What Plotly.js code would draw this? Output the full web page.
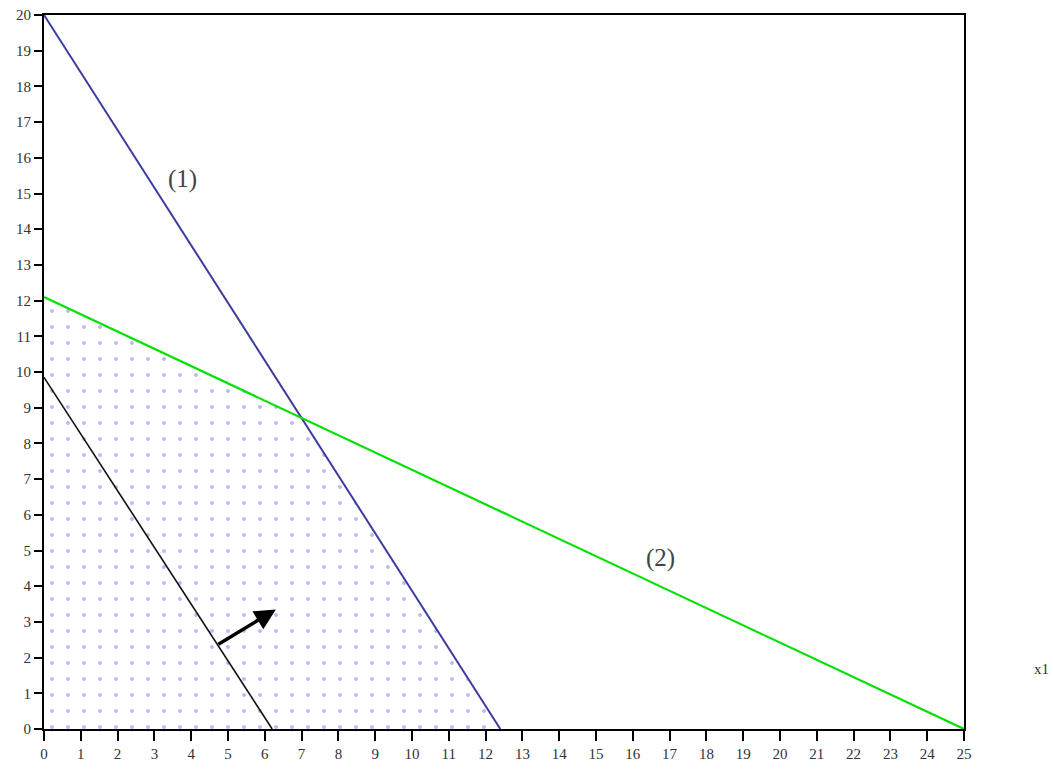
<!DOCTYPE html>
<html>
<head>
<meta charset="utf-8">
<script src="https://cdn.plot.ly/plotly-3.0.1.min.js"></script>
<style>html,body{margin:0;padding:0;background:#fff;}#chart{width:1053px;height:772px;}</style>
</head>
<body>
<div id="chart"></div>
<script>
// Constraint (1): blue line
const line1X = [0, 12.4];
const line1Y = [20, 0];
// Constraint (2): green line
const line2X = [0, 25];
const line2Y = [12.1, 0];
// Objective line (black)
const objX = [0, 6.2];
const objY = [9.85, 0];
// Feasible region vertices
const regionX = [0, 0, 7.0, 12.4, 0];
const regionY = [0, 12.1, 8.71, 0, 0];
// Direction arrow
const arrowFrom = [4.7, 2.35];
const arrowTo = [6.3, 3.35];
// Labels
const labelText = ['(1)', '(2)'];
const labelX = [3.75, 16.75];
const labelY = [15.4, 4.8];
const xTicks = Array.from({length: 26}, (_, i) => i);
const yTicks = Array.from({length: 21}, (_, i) => i);

const traces = [
  {
    x: regionX, y: regionY, type: 'scatter', mode: 'lines',
    fill: 'toself', fillcolor: 'rgba(0,0,0,0)',
    fillpattern: {shape: '.', fgcolor: '#b8b8f4', bgcolor: 'rgba(255,255,255,0)', size: 16, solidity: 0.045},
    line: {width: 0}, hoverinfo: 'skip', showlegend: false
  },
  {x: objX, y: objY, type: 'scatter', mode: 'lines', line: {color: '#111111', width: 1.6}, showlegend: false},
  {x: line1X, y: line1Y, type: 'scatter', mode: 'lines', line: {color: '#3c3ca0', width: 2}, showlegend: false},
  {x: line2X, y: line2Y, type: 'scatter', mode: 'lines', line: {color: '#00e000', width: 2.2}, showlegend: false}
];

const axisFont = {family: 'Liberation Serif, Times New Roman, serif', size: 15, color: '#333333'};

const annotations = labelText.map((t, i) => ({
  x: labelX[i], y: labelY[i], xref: 'x', yref: 'y', text: t, showarrow: false,
  font: {family: 'Liberation Serif, serif', size: 25, color: '#444444'}
}));
annotations.push({
  x: arrowTo[0], y: arrowTo[1], ax: arrowFrom[0], ay: arrowFrom[1],
  xref: 'x', yref: 'y', axref: 'x', ayref: 'y', text: '', showarrow: true,
  arrowhead: 2, arrowsize: 1.2, arrowwidth: 3.5, arrowcolor: '#000000'
});
annotations.push({
  x: 1.0, y: 0.07, xref: 'paper', yref: 'paper', xanchor: 'left', xshift: 68,
  text: 'x1', showarrow: false, font: {family: 'Liberation Serif, serif', size: 15, color: '#333333'}
});

const layout = {
  width: 1053, height: 772,
  margin: {l: 44, r: 89, t: 15, b: 43},
  paper_bgcolor: '#ffffff', plot_bgcolor: '#ffffff',
  showlegend: false,
  xaxis: {
    range: [0, 25], tickmode: 'array', tickvals: xTicks, ticktext: xTicks.map(String),
    ticks: 'outside', ticklen: 10, tickwidth: 2, tickcolor: '#000000',
    showline: true, linecolor: '#000000', linewidth: 2, mirror: true,
    showgrid: false, zeroline: false, tickfont: axisFont, fixedrange: true
  },
  yaxis: {
    range: [0, 20], tickmode: 'array', tickvals: yTicks, ticktext: yTicks.map(String),
    ticks: 'outside', ticklen: 8, tickwidth: 2, tickcolor: '#000000',
    showline: true, linecolor: '#000000', linewidth: 2, mirror: true,
    showgrid: false, zeroline: false, tickfont: axisFont, fixedrange: true
  },
  annotations: annotations
};

Plotly.newPlot('chart', traces, layout, {displayModeBar: false, staticPlot: true});
</script>
</body>
</html>
